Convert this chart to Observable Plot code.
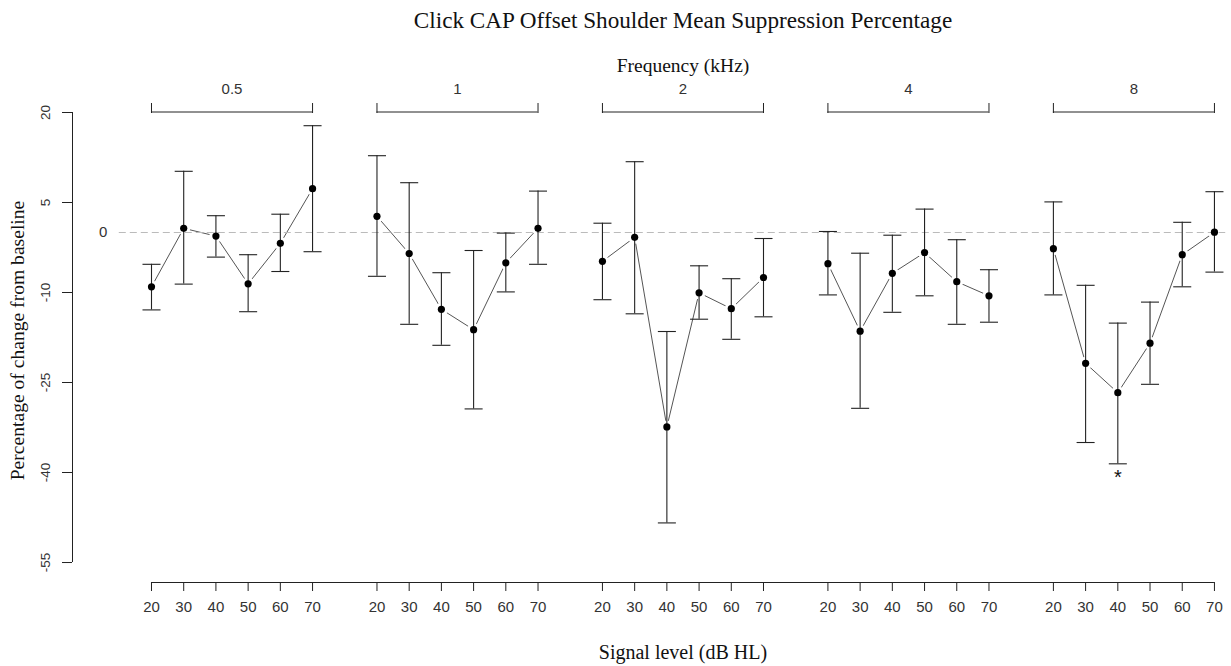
<!DOCTYPE html>
<html>
<head>
<meta charset="utf-8">
<script src="https://cdn.jsdelivr.net/npm/d3@7"></script>
<script src="https://cdn.jsdelivr.net/npm/@observablehq/plot@0.6"></script>
<style>
  html, body { margin: 0; padding: 0; background: white; }
</style>
</head>
<body>
<div id="chart"></div>
<script>
// ---- data ----
const titleText = "Click CAP Offset Shoulder Mean Suppression Percentage";
const frequencies = ["0.5", "1", "2", "4", "8"];          // kHz groups
const signalLevels = [20, 30, 40, 50, 60, 70];             // dB HL
const meanValues = [
  -9.05, 0.7, -0.6, -8.55, -1.8, 7.3,       // 0.5 kHz
  2.7, -3.5, -12.8, -16.2, -5.05, 0.7,      // 1 kHz
  -4.8, -0.8, -32.4, -10.05, -12.7, -7.5,   // 2 kHz
  -5.2, -16.45, -6.8, -3.35, -8.2, -10.55,  // 4 kHz
  -2.7, -21.8, -26.7, -18.45, -3.7, 0.05    // 8 kHz
];
const upperValues = [
  -5.3, 10.2, 2.8, -3.7, 3.05, 17.8,
  12.8, 8.3, -6.7, -3, -0.1, 6.9,
  1.55, 11.8, -16.5, -5.55, -7.7, -1,
  0.17, -3.45, -0.45, 3.9, -1.2, -6.2,
  5.1, -8.8, -15.1, -11.6, 1.7, 6.8
];
const lowerValues = [
  -12.9, -8.6, -4.1, -13.2, -6.5, -3.2,
  -7.3, -15.3, -18.8, -29.4, -9.9, -5.3,
  -11.2, -13.55, -48.4, -14.45, -17.8, -14.05,
  -10.4, -29.3, -13.3, -10.55, -15.3, -14.95,
  -10.4, -35, -38.55, -25.3, -9.05, -6.6
];
const significant = [{freq: "8", level: 40, mark: "*"}];
const yTicks = [-55, -40, -25, -10, 5, 20];

// ---- layout ----
const SLOT = signalLevels.length + 1;   // one empty slot between groups
const XMIN = -2.4526, XMAX = 33.25;     // frame extent in slot units
const YMIN = -58.33, YMAX = 20;
const serif = "Liberation Serif";

const rows = [];
frequencies.forEach((f, gi) => signalLevels.forEach((l, li) => {
  const i = gi * signalLevels.length + li;
  rows.push({freq: f, level: l, pos: gi * SLOT + li, mean: meanValues[i], lo: lowerValues[i], hi: upperValues[i]});
}));
const segs = [];
for (let i = 1; i < rows.length; i++) {
  if (rows[i].freq === rows[i - 1].freq) segs.push({a: rows[i - 1], b: rows[i]});
}
const groupData = frequencies.map((f, gi) => ({
  freq: f, start: gi * SLOT, end: gi * SLOT + signalLevels.length - 1,
  center: gi * SLOT + (signalLevels.length - 1) / 2
}));
const groupEnds = groupData.flatMap(g => [g.start, g.end]);
const posToLevel = p => signalLevels[Math.round(p) % SLOT];
const sigRows = significant.map(s => rows.find(r => r.freq === s.freq && r.level === s.level));
const xMid = (groupData[0].start + groupData[groupData.length - 1].end) / 2;
const capHalf = 0.28;

const chart = Plot.plot({
  width: 1231,
  height: 666,
  marginLeft: 72,
  marginRight: 9,
  marginTop: 112,
  marginBottom: 84,
  style: {fontFamily: "Liberation Sans", fontSize: "15px", color: "#222", background: "white", overflow: "visible"},
  x: {domain: [XMIN, XMAX]},
  y: {domain: [YMIN, YMAX]},
  marks: [
    // connecting lines (R type "b": gaps around points)
    Plot.link(segs, {x1: d => d.a.pos, y1: d => d.a.mean, x2: d => d.b.pos, y2: d => d.b.mean, stroke: "#555", strokeWidth: 1}),
    Plot.dot(rows, {x: "pos", y: "mean", r: 6.5, fill: "white", stroke: "none"}),
    // zero reference line
    Plot.ruleY([0], {x1: -1, x2: XMAX + 0.1, stroke: "#bbb", strokeWidth: 1.2, strokeDasharray: "7,4"}),
    Plot.text(["0"], {x: -1.5, y: 0, text: d => d, fontSize: 15, fill: "#333"}),
    // error bars
    Plot.ruleX(rows, {x: "pos", y1: "lo", y2: "hi", stroke: "#222", strokeWidth: 1.1}),
    Plot.link(rows, {x1: d => d.pos - capHalf, x2: d => d.pos + capHalf, y1: "hi", y2: "hi", stroke: "#222", strokeWidth: 1.1}),
    Plot.link(rows, {x1: d => d.pos - capHalf, x2: d => d.pos + capHalf, y1: "lo", y2: "lo", stroke: "#222", strokeWidth: 1.1}),
    // means
    Plot.dot(rows, {x: "pos", y: "mean", r: 3.6, fill: "black", stroke: "none"}),
    // significance
    Plot.text(sigRows, {x: "pos", y: "lo", text: () => significant[0].mark, dy: 14, fontSize: 20, fill: "#111"}),
    // y axis
    Plot.ruleX([XMIN], {y1: yTicks[0], y2: yTicks[yTicks.length - 1], stroke: "#222"}),
    Plot.axisY(yTicks, {anchor: "left", tickSize: 10, tickFormat: () => "", stroke: "#222"}),
    Plot.text(yTicks, {x: XMIN, y: d => d, text: d => String(d), rotate: -90, dx: -27, fontSize: 13.5, fill: "#333"}),
    Plot.text(["Percentage of change from baseline"], {x: XMIN, y: -18, text: d => d, rotate: -90, dx: -55, fontFamily: serif, fontSize: 19.6, fill: "#111"}),
    // x axis
    Plot.ruleY([YMIN], {x1: groupData[0].start, x2: groupData[groupData.length - 1].end, stroke: "#222"}),
    Plot.axisX(rows.map(r => r.pos), {anchor: "bottom", tickSize: 9, tickPadding: 10, tickFormat: posToLevel, fontSize: 15, fill: "#333", stroke: "#222"}),
    Plot.text(["Signal level (dB HL)"], {x: xMid, frameAnchor: "bottom", lineAnchor: "middle", dy: 70, text: d => d, fontFamily: serif, fontSize: 20, fill: "#111"}),
    // top frequency brackets
    Plot.axisX(groupEnds, {anchor: "top", tickSize: 10, tickFormat: () => "", stroke: "#222"}),
    Plot.ruleY(groupData, {y: () => YMAX, x1: "start", x2: "end", stroke: "#222", dy: -0.5}),
    Plot.text(groupData, {x: "center", frameAnchor: "top", lineAnchor: "middle", dy: -23, text: "freq", fontSize: 15, fill: "#333"}),
    Plot.text(["Frequency (kHz)"], {x: xMid, frameAnchor: "top", lineAnchor: "middle", dy: -47, text: d => d, fontFamily: serif, fontSize: 19.5, fill: "#111"}),
    Plot.text([titleText], {x: xMid, frameAnchor: "top", lineAnchor: "middle", dy: -92, text: d => d, fontFamily: serif, fontSize: 23.2, fill: "#111"})
  ]
});
document.getElementById("chart").appendChild(chart);
</script>
</body>
</html>
